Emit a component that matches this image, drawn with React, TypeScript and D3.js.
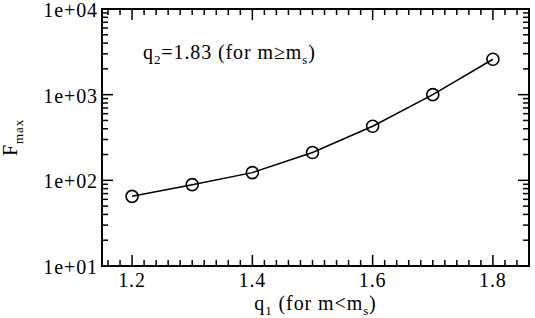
import React from 'react';
import * as d3 from 'd3';

// data
const q1Values = [1.2, 1.3, 1.4, 1.5, 1.6, 1.7, 1.8];
const fmaxValues = [65, 89, 123, 211, 428, 1000, 2590];
const xTickLabels = ['1.2', '1.4', '1.6', '1.8'];
const yTickLabels = ['1e+01', '1e+02', '1e+03', '1e+04'];

const width = 535;
const height = 318;
const margin = { left: 102, top: 9, right: 6, bottom: 52 };
const font = '"Liberation Serif", "Times New Roman", serif';

const App: React.FC = () => {
  const x = d3.scaleLinear().domain([1.15, 1.86]).range([margin.left, width - margin.right]);
  const y = d3.scaleLog().domain([10, 10000]).range([height - margin.bottom, margin.top]);
  const [x0, x1] = x.range();
  const [y0, y1] = y.range();

  const majorX = xTickLabels.map(Number);
  const minorX = d3.range(1.16, 1.861, 0.02).filter(v => !majorX.some(m => Math.abs(m - v) < 1e-6));
  const majorY = yTickLabels.map(Number);
  const minorY: number[] = [];
  [10, 100, 1000].forEach(d => d3.range(2, 10).forEach(k => minorY.push(k * d)));

  const line = d3.line<number>()
    .x((_, i) => x(q1Values[i]))
    .y(d => y(d));

  const major = 11;
  const minor = 6;
  const fs = 20;
  const sub = 13;
  const ls = 0.9;

  return (
    <svg width={width} height={height} style={{ position: 'absolute', left: 0, top: 0, background: '#fff' }}
      fontFamily={font}>
      <g stroke="#000" strokeWidth={1.5}>
        {majorX.map(v => (
          <g key={'mx' + v}>
            <line x1={x(v)} x2={x(v)} y1={y0} y2={y0 - major} />
            <line x1={x(v)} x2={x(v)} y1={y1} y2={y1 + major} />
          </g>
        ))}
        {minorX.map(v => (
          <g key={'nx' + v}>
            <line x1={x(v)} x2={x(v)} y1={y0} y2={y0 - minor} />
            <line x1={x(v)} x2={x(v)} y1={y1} y2={y1 + minor} />
          </g>
        ))}
        {majorY.map(v => (
          <g key={'my' + v}>
            <line x1={x0} x2={x0 + major} y1={y(v)} y2={y(v)} />
            <line x1={x1} x2={x1 - major} y1={y(v)} y2={y(v)} />
          </g>
        ))}
        {minorY.map(v => (
          <g key={'ny' + v}>
            <line x1={x0} x2={x0 + minor} y1={y(v)} y2={y(v)} />
            <line x1={x1} x2={x1 - minor} y1={y(v)} y2={y(v)} />
          </g>
        ))}
      </g>
      <rect x={x0} y={y1} width={x1 - x0} height={y0 - y1} fill="none" stroke="#000" strokeWidth={2} />

      {/* tick labels */}
      {majorX.map((v, i) => (
        <text key={'lx' + v} x={x(v)} y={y0 + 21} textAnchor="middle" fontSize={fs} letterSpacing={ls}>{xTickLabels[i]}</text>
      ))}
      {majorY.map((v, i) => (
        <text key={'ly' + v} x={x0 - 4} y={y(v) + 8} textAnchor="end" fontSize={fs} letterSpacing={ls}>{yTickLabels[i]}</text>
      ))}

      {/* axis titles */}
      <text x={(x0 + x1) / 2} y={310} textAnchor="middle" fontSize={fs} letterSpacing={ls}>
        q<tspan fontSize={sub} dy={5}>1</tspan><tspan dy={-5}> (for m&lt;m</tspan><tspan fontSize={sub} dy={5}>s</tspan><tspan dy={-5}>)</tspan>
      </text>
      <text transform={`translate(17,${(y0 + y1) / 2}) rotate(-90)`} textAnchor="middle" fontSize={fs} letterSpacing={ls}>
        F<tspan fontSize={sub} dy={6}>max</tspan>
      </text>

      <text x={143} y={59} fontSize={fs} letterSpacing={ls}>
        q<tspan fontSize={sub} dy={5}>2</tspan><tspan dy={-5}>=1.83 (for m≥m</tspan><tspan fontSize={sub} dy={5}>s</tspan><tspan dy={-5}>)</tspan>
      </text>

      {/* series */}
      <path d={line(fmaxValues) ?? ''} fill="none" stroke="#000" strokeWidth={1.5} />
      {fmaxValues.map((v, i) => (
        <circle key={'c' + i} cx={x(q1Values[i])} cy={y(v)} r={6} fill="none" stroke="#000" strokeWidth={1.6} />
      ))}
    </svg>
  );
};

export default App;
